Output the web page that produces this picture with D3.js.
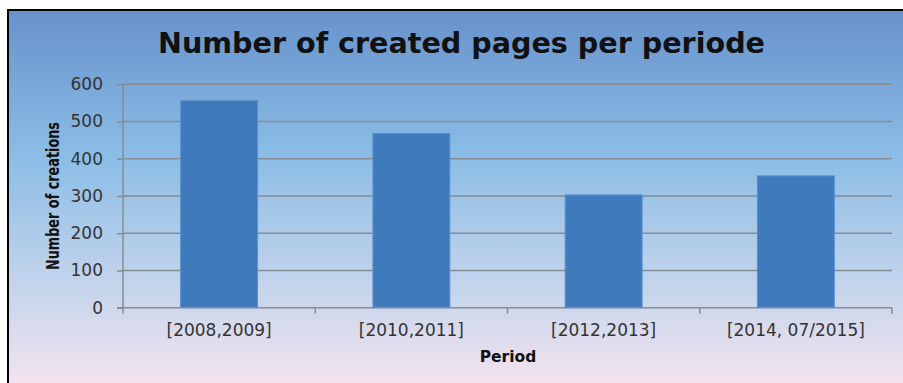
<!DOCTYPE html>
<html><head><meta charset="utf-8">
<script src="https://cdn.jsdelivr.net/npm/d3@7"></script>
<style>html,body{margin:0;padding:0;background:#fff;}svg{display:block;}</style>
</head><body>
<script>
const categories = ["[2008,2009]", "[2010,2011]", "[2012,2013]", "[2014, 07/2015]"];
const values = [556, 468, 303, 354];
const yTicks = [0, 100, 200, 300, 400, 500, 600];
const title = "Number of created pages per periode";
const xTitle = "Period";
const yTitle = "Number of creations";

const W = 903, H = 383;
const svg = d3.select("body").append("svg").attr("width", W).attr("height", H);
const defs = svg.append("defs");
const g = defs.append("linearGradient").attr("id","bg").attr("x1",0).attr("y1",0).attr("x2",0).attr("y2",1);
[[0,"#6792cb"],[0.38,"#8bbde6"],[0.75,"#c9d6ec"],[1,"#f9e5ef"]].forEach(s=>g.append("stop").attr("offset",s[0]).attr("stop-color",s[1]));

svg.append("rect").attr("x",8).attr("y",10).attr("width",W).attr("height",H).attr("fill","url(#bg)");
svg.append("line").attr("x1",7).attr("x2",W).attr("y1",10).attr("y2",10).attr("stroke","#000").attr("stroke-width",2);
svg.append("line").attr("x1",8).attr("x2",8).attr("y1",9).attr("y2",H).attr("stroke","#000").attr("stroke-width",2);

const m = {l:123, r:892, t:84.3, b:307.7};
const x = d3.scaleBand().domain(categories).range([m.l, m.r]).paddingInner(0.6).paddingOuter(0.3);
const y = d3.scaleLinear().domain([0,600]).range([m.b, m.t]);

const font = "'DejaVu Sans', Verdana, sans-serif";

// gridlines
svg.append("g").selectAll("line").data(yTicks.filter(d=>d>0)).join("line")
  .attr("x1", m.l).attr("x2", m.r).attr("y1", d=>y(d)).attr("y2", d=>y(d))
  .attr("stroke","#878c93").attr("stroke-width",1.5);

// bars
svg.append("g").selectAll("rect").data(values).join("rect")
  .attr("x",(d,i)=>x(categories[i])).attr("width",x.bandwidth())
  .attr("y",d=>y(d)).attr("height",d=>y(0)-y(d))
  .attr("fill","#3f7abd").attr("stroke","#5a8fcc").attr("stroke-width",1);

// y axis
const ya = svg.append("g").attr("transform",`translate(${m.l},0)`)
  .call(d3.axisLeft(y).tickValues(yTicks).tickSize(6).tickPadding(14));
ya.select(".domain").attr("stroke","#878c93").attr("stroke-width",1.5).attr("d",`M0,${m.t}V${m.b}`);
ya.selectAll(".tick line").attr("stroke","#878c93").attr("stroke-width",1.5);
ya.selectAll("text").attr("font-family",font).attr("font-size",17).attr("fill","#333");

// x axis
const xEdges = d3.range(categories.length+1).map(i=>m.l + i*(m.r-m.l)/categories.length);
svg.append("line").attr("x1",m.l-6).attr("x2",m.r).attr("y1",m.b).attr("y2",m.b).attr("stroke","#878c93").attr("stroke-width",1.5);
svg.append("g").selectAll("line").data(xEdges).join("line")
  .attr("x1",d=>d).attr("x2",d=>d).attr("y1",m.b).attr("y2",m.b+6).attr("stroke","#878c93").attr("stroke-width",1.5);
svg.append("g").selectAll("text").data(categories).join("text")
  .attr("x",d=>x(d)+x.bandwidth()/2).attr("y",336).attr("text-anchor","middle")
  .attr("font-family",font).attr("font-size",17).attr("fill","#333").text(d=>d);

// titles
svg.append("text").attr("x",461.5).attr("y",53).attr("text-anchor","middle")
  .attr("font-family",font).attr("font-weight","bold").attr("font-size",27.5).attr("fill","#111")
  .attr("textLength",607).attr("lengthAdjust","spacingAndGlyphs").text(title);
svg.append("text").attr("x",508).attr("y",362).attr("text-anchor","middle")
  .attr("font-family",font).attr("font-weight","bold").attr("font-size",15.5).attr("fill","#111").text(xTitle);
svg.append("text").attr("transform","translate(59,196) rotate(-90)").attr("text-anchor","middle")
  .attr("font-family","'DejaVu Sans Condensed', 'DejaVu Sans', sans-serif").attr("font-weight","bold").attr("font-size",17).attr("fill","#111")
  .attr("textLength",148).attr("lengthAdjust","spacingAndGlyphs").text(yTitle);
</script>
</body></html>
